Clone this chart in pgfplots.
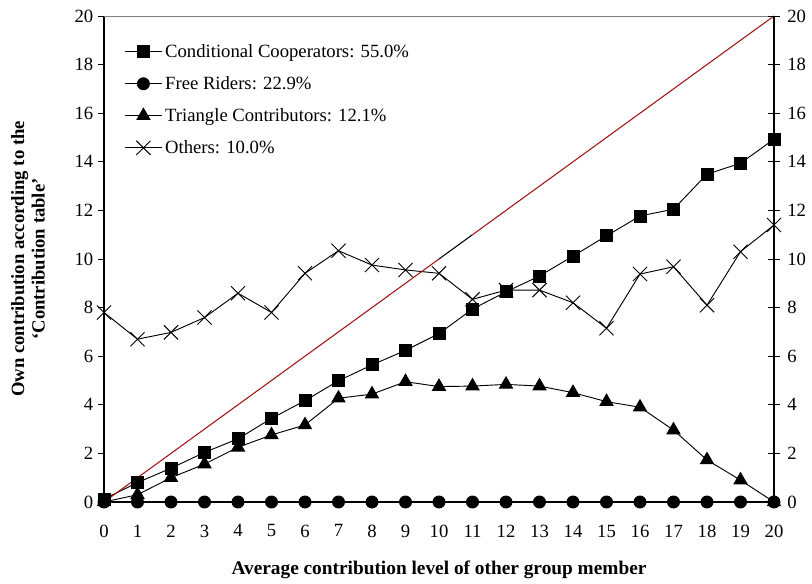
\documentclass[border=0pt]{standalone}
\usepackage{pgfplots}
\pgfplotsset{compat=1.18}
\usepackage{fontspec}
\setmainfont{Liberation Serif}
\definecolor{diagred}{RGB}{160,20,20}
\begin{document}
\begin{tikzpicture}
\pgfplotsset{every axis/.append style={
  scale only axis, width=502.5pt, height=364.5pt,
  xmin=0, xmax=20, ymin=0, ymax=20,
  font=\fontsize{14}{16}\selectfont,
  /pgf/number format/assume math mode=true,
  ytick={0,2,...,20},
}}
\begin{axis}[
  axis y line*=left, axis x line*=bottom,
  xtick={0,...,20},
  major x tick style={draw=none},
  xticklabel style={yshift=-9pt},
  tick align=outside,
  major tick length=4.5pt,
  every tick/.style={black, line width=0.6pt},
  axis line style={black, line width=0.8pt, -},
  xlabel={Average contribution level of other group member},
  xlabel style={at={(rel axis cs:0.5,0)}, anchor=center, yshift=-51pt, font=\fontsize{14.5}{17}\selectfont\bfseries},
  ylabel={Own contribution according to the\\`Contribution table'},
  ylabel style={at={(rel axis cs:0,0.5)}, anchor=center, yshift=57pt, align=center, font=\fontsize{14}{15.5}\selectfont\bfseries},
  legend style={draw=none, fill=none, at={(rel axis cs:0,1)}, anchor=north west, xshift=12pt, yshift=-17pt, row sep=8.8pt, font=\fontsize{14}{16}\selectfont},
  legend cell align=left,
  legend image code/.code={\draw[#1] (0pt,0pt) -- (14pt,0pt) -- (28pt,0pt); \draw[#1, mark repeat=2, mark phase=2] plot coordinates {(0pt,0pt) (14pt,0pt) (28pt,0pt)};},
  clip=false,
]
\draw[gray, line width=0.6pt] (rel axis cs:0,1) -- (rel axis cs:1,1);
\addplot[black, line width=0.7pt, mark=square*, mark size=4.5pt] coordinates {
(0,0.12) (1,0.8) (2,1.39) (3,2.04) (4,2.6) (5,3.44) (6,4.17) (7,4.99) (8,5.64) (9,6.24) (10,6.93)
(11,7.94) (12,8.65) (13,9.3) (14,10.12) (15,10.95) (16,11.77) (17,12.05) (18,13.49) (19,13.94) (20,14.93)};
\addlegendentry{Conditional Cooperators: 55.0\%}
\addplot[black, line width=0.7pt, mark=*, mark size=4.5pt] coordinates {
(0,0) (1,0) (2,0) (3,0) (4,0) (5,0) (6,0) (7,0) (8,0) (9,0) (10,0)
(11,0) (12,0) (13,0) (14,0) (15,0) (16,0) (17,0) (18,0) (19,0) (20,0)};
\addlegendentry{Free Riders: 22.9\%}
\addplot[black, line width=0.7pt, mark=triangle*, mark size=5.6pt] coordinates {
(0,0) (1,0.3) (2,1.0) (3,1.56) (4,2.25) (5,2.76) (6,3.17) (7,4.27) (8,4.44) (9,4.95) (10,4.75)
(11,4.77) (12,4.84) (13,4.77) (14,4.5) (15,4.13) (16,3.9) (17,2.96) (18,1.73) (19,0.9) (20,0)};
\addlegendentry{Triangle Contributors: 12.1\%}
\addplot[black, line width=0.7pt, mark=x, mark size=7.5pt, mark options={line width=0.7pt}] coordinates {
(0,7.8) (1,6.7) (2,6.98) (3,7.59) (4,8.59) (5,7.8) (6,9.41) (7,10.34) (8,9.75) (9,9.55) (10,9.41)
(11,8.34) (12,8.72) (13,8.72) (14,8.2) (15,7.15) (16,9.38) (17,9.68) (18,8.1) (19,10.3) (20,11.4)};
\addlegendentry{Others: 10.0\%}
\addplot[diagred, line width=0.8pt, forget plot] coordinates {(0,0) (10,10)};
\addplot[black, line width=0.8pt, forget plot] coordinates {(10,10) (11,11)};
\addplot[diagred, line width=0.8pt, forget plot] coordinates {(11,11) (20,20)};
\path (rel axis cs:0,0) ++(-78pt,-59pt);
\path (rel axis cs:1,1) ++(28.5pt,12pt);
\end{axis}
\begin{axis}[
  axis y line*=right, axis x line=none,
  tick align=center,
  major tick length=9pt,
  every tick/.style={black, line width=0.6pt},
  axis line style={black, line width=0.8pt, -},
  yticklabel style={xshift=2pt},
]
\end{axis}
\end{tikzpicture}
\end{document}
